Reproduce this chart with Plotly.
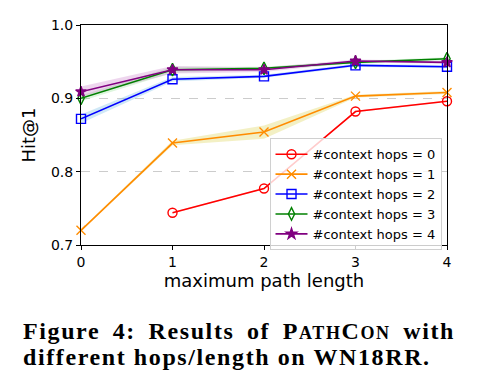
import plotly.graph_objects as go

path_length = [0, 1, 2, 3, 4]
hops0 = [None, 0.744, 0.777, 0.882, 0.896]
hops1 = [0.720, 0.839, 0.854, 0.903, 0.908]
hops2 = [0.872, 0.926, 0.930, 0.945, 0.943]
hops3 = [0.900, 0.939, 0.941, 0.949, 0.954]
hops4 = [0.909, 0.939, 0.939, 0.951, 0.949]
std0 = [None, 0.001, 0.001, 0.001, 0.001]
std1 = [0.001, 0.003, 0.009, 0.002, 0.002]
std2 = [0.006, 0.003, 0.002, 0.002, 0.002]
std3 = [0.004, 0.004, 0.002, 0.002, 0.002]
std4 = [0.007, 0.005, 0.003, 0.002, 0.002]
y_ticks = [0.7, 0.8, 0.9, 1.0]
x_ticks = [0, 1, 2, 3, 4]

series = [
    ("#context hops = 0", hops0, std0, "red", "rgba(255,0,0,0.15)", "circle-open"),
    ("#context hops = 1", hops1, std1, "darkorange", "rgba(215,205,60,0.3)", "x-thin-open"),
    ("#context hops = 2", hops2, std2, "blue", "rgba(120,190,230,0.35)", "square-open"),
    ("#context hops = 3", hops3, std3, "green", "rgba(120,220,120,0.25)", "diamond-tall-open"),
    ("#context hops = 4", hops4, std4, "purple", "rgba(200,120,200,0.3)", "star"),
]

fig = go.Figure()
for name, ys, sd, color, band, sym in series:
    xs = [x for x, y in zip(path_length, ys) if y is not None]
    yv = [y for y in ys if y is not None]
    sv = [s for s in sd if s is not None]
    up = [y + s for y, s in zip(yv, sv)]
    lo = [y - s for y, s in zip(yv, sv)]
    fig.add_trace(go.Scatter(x=xs + xs[::-1], y=up + lo[::-1], fill="toself",
                             fillcolor=band, line=dict(width=0), showlegend=False,
                             hoverinfo="skip", mode="lines"))
for name, ys, sd, color, band, sym in series:
    xs = [x for x, y in zip(path_length, ys) if y is not None]
    yv = [y for y in ys if y is not None]
    fig.add_trace(go.Scatter(x=xs, y=yv, name=name, mode="lines+markers",
                             line=dict(color=color, width=1.6),
                             marker=dict(symbol=sym, size=9 if sym != "star" else 8,
                                         color=color, line=dict(color=color, width=1.4)),
                             cliponaxis=False))

# page body has an 8px margin, so the figure is drawn 8px smaller and offset
fig.update_layout(
    width=475, height=383,
    margin=dict(l=73, r=36, t=9, b=146),
    paper_bgcolor="white", plot_bgcolor="white",
    font=dict(family="DejaVu Sans", color="black"),
    legend=dict(x=0.985, y=0.485, xanchor="right", yanchor="top",
                bgcolor="rgba(255,255,255,0.8)", bordercolor="#d0d0d0", borderwidth=1,
                font=dict(size=13, family="DejaVu Sans"), tracegroupgap=0,
                itemwidth=32),
    xaxis=dict(range=[0, 4], tickvals=x_ticks, showgrid=False, zeroline=False,
               showline=True, linecolor="black", linewidth=1, mirror=True,
               ticks="outside", ticklen=4, tickcolor="black",
               tickfont=dict(size=14),
               title=dict(text="maximum path length", font=dict(size=18), standoff=2)),
    yaxis=dict(range=[0.7, 1.0], tickvals=y_ticks, tickformat=".1f",
               showgrid=True, gridcolor="#cccccc", griddash="dash", gridwidth=1,
               zeroline=False,
               showline=True, linecolor="black", linewidth=1, mirror=True,
               ticks="outside", ticklen=4, tickcolor="black",
               tickfont=dict(size=14),
               title=dict(text="Hit@1", font=dict(size=18), standoff=10)),
)

cap_font = dict(family="Liberation Serif", size=24, color="black")
fig.add_annotation(xref="paper", yref="paper", x=-0.163, y=-0.39, xanchor="left", yanchor="middle",
                   showarrow=False, font=cap_font,
                   text="<span style='letter-spacing:1.6px;word-spacing:5px'><b>Figure 4: Results of P<span style='font-size:18px'>ATH</span>C<span style='font-size:18px'>ON</span> with</b></span>")
fig.add_annotation(xref="paper", yref="paper", x=-0.163, y=-0.509, xanchor="left", yanchor="middle",
                   showarrow=False, font=cap_font,
                   text="<span style='letter-spacing:1.6px'><b>different hops/length on WN18RR.</b></span>")

fig.write_html("out.html")
